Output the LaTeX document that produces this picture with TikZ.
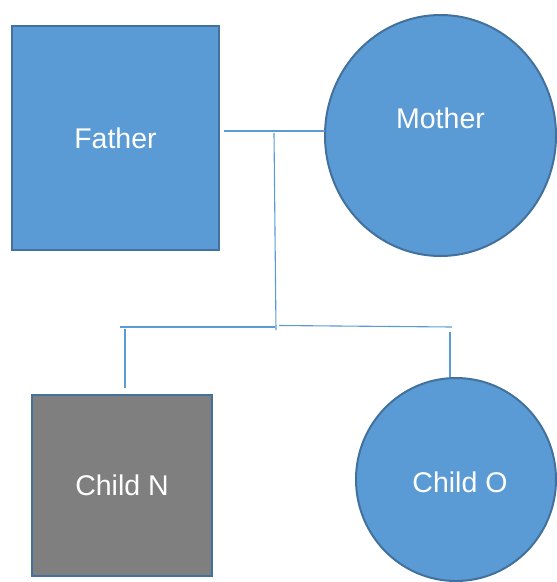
\documentclass[tikz,border=0pt]{standalone}
\usepackage{fontspec}
\setmainfont{Liberation Sans}
\usetikzlibrary{shapes.geometric}
\definecolor{fillblue}{HTML}{5B9BD5}
\definecolor{edgeblue}{HTML}{41719C}
\definecolor{fillgray}{HTML}{7F7F7F}

\begin{document}
\begin{tikzpicture}[x=1pt,y=-1pt]
  \tikzset{male/.style = {shape=rectangle,draw=edgeblue,line width=2pt,fill=fillblue,text=white,font=\fontsize{28.5}{34}\selectfont,inner sep=0pt}}
  \tikzset{female/.style = {shape=ellipse,draw=edgeblue,line width=2pt,fill=fillblue,text=white,font=\fontsize{28.5}{34}\selectfont,inner sep=0pt}}
  \tikzset{nametag/.style = {text=white,font=\fontsize{28.5}{34}\selectfont,inner sep=0pt}}
  \tikzset{link/.style = {draw=fillblue,line width=1.1pt}}

  \useasboundingbox (0,0) rectangle (557,582);

	\node[male,minimum width=207pt,minimum height=224pt] (FA) at (115.5,138) {Father};
	\node[female,minimum width=231pt,minimum height=241pt,
	  label={[nametag,yshift=17pt]center:Mother}] (MO) at (440.5,135.5) {};

	\node[male,fill=fillgray,minimum width=180pt,minimum height=181pt] (CN) at (122,485.5) {Child N};
	\node[female,minimum width=200pt,minimum height=203pt,
	  label={[nametag,xshift=4pt,yshift=-3pt]center:Child O}] (CO) at (456,479.5) {};

	% couple line and descent
	\coordinate (FAr) at (224,131);
	\coordinate (MOl) at (325,131);
	\coordinate (DNt) at (274,133);
	\coordinate (DNb) at (276,330);
	% sibling line
	\coordinate (SBl) at (120,327);
	\coordinate (SBm) at (275,327);
	\coordinate (SBn) at (279,325.5);
	\coordinate (SBr) at (452,327);
	% drops to children
	\coordinate (CNt) at (125,329);
	\coordinate (CNb) at (125,388);
	\coordinate (COt) at (450,332);
	\coordinate (COb) at (450,377);

    \foreach \from/\to in {FAr/MOl, DNt/DNb, SBl/SBm, SBn/SBr, CNt/CNb, COt/COb}
    \path[link] (\from) -- (\to);

\end{tikzpicture}
\end{document}
